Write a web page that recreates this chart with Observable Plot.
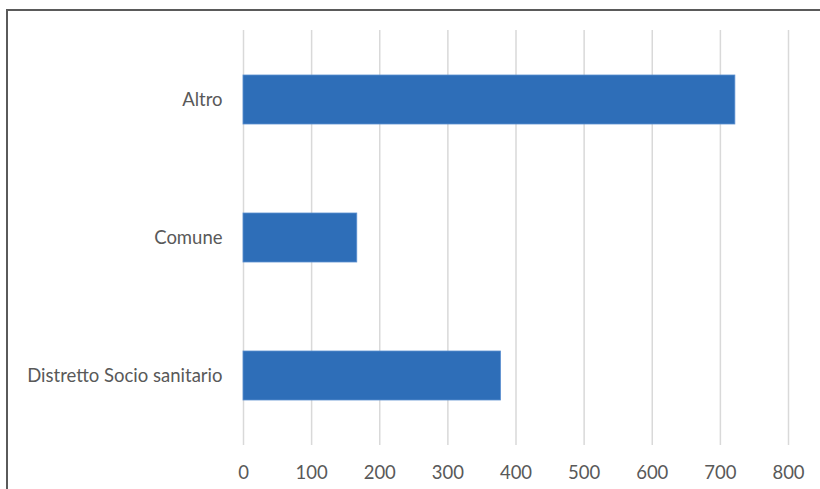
<!DOCTYPE html>
<html>
<head>
<meta charset="utf-8">
<script src="https://cdn.jsdelivr.net/npm/d3@7"></script>
<script src="https://cdn.jsdelivr.net/npm/@observablehq/plot@0.6"></script>
<style>
  html, body { margin: 0; padding: 0; background: #fff; overflow: hidden; }
  #wrap { position: relative; width: 820px; height: 489px; }
  #frame { position: absolute; left: 6px; top: 9px; width: 900px; height: 600px; border: 2px solid #5a5a5a; box-sizing: border-box; pointer-events: none; }
  #chart { position: absolute; left: 0; top: 0; }
  #chart svg { font-family: Lato, "Open Sans", sans-serif; }
  #chart svg text { font-size: 18.5px; fill: #595959; }
</style>
</head>
<body>
<div id="wrap">
  <div id="chart"></div>
  <div id="frame"></div>
</div>
<script>
const categories = ["Altro", "Comune", "Distretto Socio sanitario"];
const values = [722, 167, 378];
const xTicks = [0, 100, 200, 300, 400, 500, 600, 700, 800];

const data = categories.map((c, i) => ({ category: c, value: values[i] }));

const chart = Plot.plot({
  width: 820,
  height: 489,
  marginLeft: 243,
  marginRight: 32,
  marginTop: 30,
  marginBottom: 44,
  x: { domain: [0, 800], ticks: xTicks, label: null },
  y: { domain: categories, label: null, paddingInner: 0.645, paddingOuter: 0.3225 },
  marks: [
    Plot.ruleX(xTicks, { stroke: "#d9d9d9", strokeWidth: 1.5 }),
    Plot.barX(data, { x: "value", y: "category", fill: "#2e6eb8", stroke: "#5b8fd0", strokeWidth: 0.8 }),
    Plot.axisX({ ticks: xTicks, tickSize: 0, tickPadding: 20, label: null }),
    Plot.axisY({ tickSize: 0, tickPadding: 21, label: null })
  ]
});
document.getElementById("chart").appendChild(chart);
</script>
</body>
</html>
